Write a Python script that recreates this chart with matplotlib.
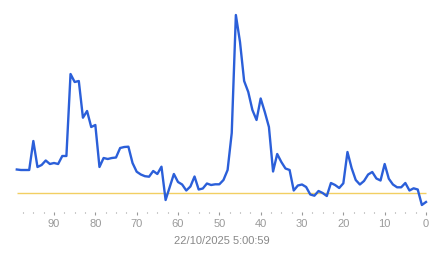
import matplotlib
matplotlib.use("Agg")
import matplotlib.pyplot as plt
from matplotlib.ticker import FixedLocator

# Age of sample (units back from the timestamp), newest = 0
ages = list(range(99, -1, -1))
values = [42.5, 42, 42, 42, 71, 45, 47, 51.5, 48, 49, 48, 56, 56, 138, 130, 131,
          94.3, 101, 85, 87, 45, 54, 53, 54, 54.5, 64, 65, 65.3, 49, 40.3,
          37.5, 35.8, 35.3, 41, 38, 45.3, 12, 25, 38, 30, 27.5, 21.5, 25.5,
          35.5, 22.5, 23.5, 28.5, 27, 27.7, 27.7, 32, 42, 79, 197, 170, 131,
          120, 102, 92, 113.5, 100, 85, 40.5, 58, 50, 43.5, 42, 21.5, 26.5,
          27.5, 25, 17.5, 16.3, 21, 19, 16, 29, 27, 24, 28.7, 60, 44, 32,
          27.5, 31, 37.5, 40, 33.5, 31.5, 48, 33.3, 27.5, 24.7, 24.7, 29,
          21.5, 23.7, 22.5, 7, 10]
baseline = 19
major_ticks = [0, 10, 20, 30, 40, 50, 60, 70, 80, 90]
minor_ticks = [2.5 * k for k in range(40) if (2.5 * k) % 10 != 0]
time_label = "22/10/2025 5:00:59"

plt.rcParams['font.family'] = ['Liberation Sans', 'DejaVu Sans']

fig = plt.figure(figsize=(4.43, 2.58), dpi=100)
ax = fig.add_axes([0, 1 - 212 / 258, 1, 212 / 258])
ax.plot(ages, values, color='#2b5fd9', lw=1.7, solid_joinstyle='round', zorder=3)
ax.hlines(baseline, max(ages), min(ages), color='#f2cf62', lw=1.0, zorder=2)

ax.set_xlim(426 / 4.1333, -17 / 4.1333)
ax.set_ylim(0, 212)
for s in ax.spines.values():
    s.set_visible(False)
ax.set_yticks([])
ax.set_xticks(major_ticks)
ax.set_xticklabels([str(t) for t in major_ticks])
ax.xaxis.set_minor_locator(FixedLocator(minor_ticks))
ax.tick_params(axis='x', which='major', length=2.5, width=0.8, color='#999999',
               labelcolor='#9a9a9a', labelsize=8, pad=2.5)
ax.tick_params(axis='x', which='minor', length=1, width=0.8, color='#999999')
ax.set_xlabel(time_label, color='#888888', fontsize=8, labelpad=5)

fig.savefig('out.png', dpi=100)
